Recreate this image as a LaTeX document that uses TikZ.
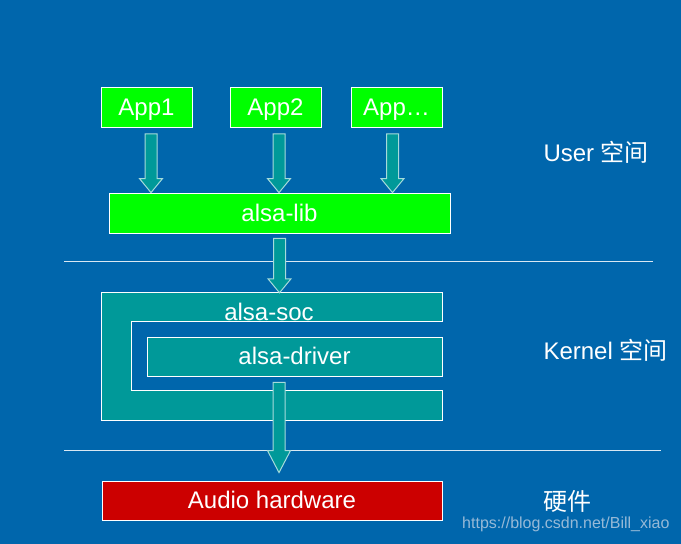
\documentclass[tikz,border=0pt]{standalone}
\usepackage{fontspec}
\setmainfont{Liberation Sans}
\newfontfamily\cjk{Noto Sans CJK SC}
\usetikzlibrary{positioning,calc}
\definecolor{bgblue}{RGB}{0,102,172}
\definecolor{boxgreen}{RGB}{0,255,0}
\definecolor{boxteal}{RGB}{0,153,153}
\definecolor{boxred}{RGB}{204,0,0}
\definecolor{marktext}{RGB}{150,185,215}

% block arrow: start, tip, head length
\newcommand{\fatarrow}[3]{%
  \draw[fatarrow] let \p1=(#1), \p2=(#2) in
    (\x1-6pt,\y1) -- (\x1+6pt,\y1) -- (\x1+6pt,\y2+#3) -- (\x1+11.5pt,\y2+#3)
    -- (\x1,\y2) -- (\x1-11.5pt,\y2+#3) -- (\x1-6pt,\y2+#3) -- cycle;}

\begin{document}
\begin{tikzpicture}[x=1pt, y=-1pt,
appbox/.style = {draw=white, fill=boxgreen, line width=0.8pt, text=white, inner sep=0pt, text height=16pt, text depth=0pt, minimum width=91pt, minimum height=40pt},
tealbox/.style = {draw=white, fill=boxteal, line width=0.8pt, text=white, inner sep=0pt, text height=16pt, text depth=0pt},
fatarrow/.style = {draw=white!65!boxteal, fill=boxteal, line width=1pt},
sepline/.style = {draw=white!85!bgblue, line width=0.8pt},
sidetext/.style = {text=white, anchor=west}]
\tikzstyle{every node}=[font=\fontsize{24}{28}\selectfont]
\fill[bgblue] (0,0) rectangle (681,544);
\useasboundingbox (0,0) rectangle (681,544);

\node[appbox] (app1) at (146.5,107.5) {App1};
\node[appbox] (app2) at (275.5,107.5) {App2};
\node[appbox] (app3) at (396.5,107.5) {App\ldots};
\node[appbox, minimum width=341pt] (lib) at (279.5,213) {alsa-lib};

\node[inner sep=0pt, minimum width=340pt, minimum height=127pt] (soc) at (272,356.5) {};
\draw[tealbox] (soc.north west) -- (soc.north east) -- ++(0,-29pt) -- ([xshift=30pt,yshift=-29pt]soc.north west)
  -- ([xshift=30pt,yshift=30pt]soc.south west) -- ([yshift=30pt]soc.south east) -- (soc.south east)
  -- (soc.south west) -- cycle;
\node[text=white, inner sep=0pt, text height=16pt, text depth=0pt] (soclabel) at (269,312) {alsa-soc};
\node[tealbox, minimum width=295pt, minimum height=39pt] (drv) at (294.5,356.5) {alsa-driver};

\node[draw=white, fill=boxred, line width=0.8pt, text=white, inner sep=0pt, text height=16pt, text depth=0pt, minimum width=340pt, minimum height=39pt] (hw) at (272,500.5) {Audio hardware};

\draw[sepline] (64,261) -- (653,261);
\draw[sepline] (64,450) -- (661,450);

\fatarrow{[xshift=4.5pt,yshift=-6pt]app1.south}{lib.north}{14pt}
\fatarrow{[xshift=3.5pt,yshift=-6pt]app2.south}{lib.north}{14pt}
\fatarrow{[xshift=-4pt,yshift=-6pt]app3.south}{lib.north}{14pt}
\fatarrow{[yshift=-5pt]lib.south}{soc.north}{14pt}
\fatarrow{[xshift=-15.5pt,yshift=-6pt]drv.south}{[yshift=8pt]hw.north}{22pt}

\node[sidetext] (user) at (540,152) {User {\cjk 空间}};
\node[sidetext] (kernel) at (540,350) {Kernel {\cjk 空间}};
\node[sidetext] (hwtext) at (540,501) {\cjk 硬件};
\node[text=marktext, anchor=east, font=\fontsize{16}{19}\selectfont] (mark) at (673,524) {https://blog.csdn.net/Bill\_xiao};
\end{tikzpicture}
\end{document}
